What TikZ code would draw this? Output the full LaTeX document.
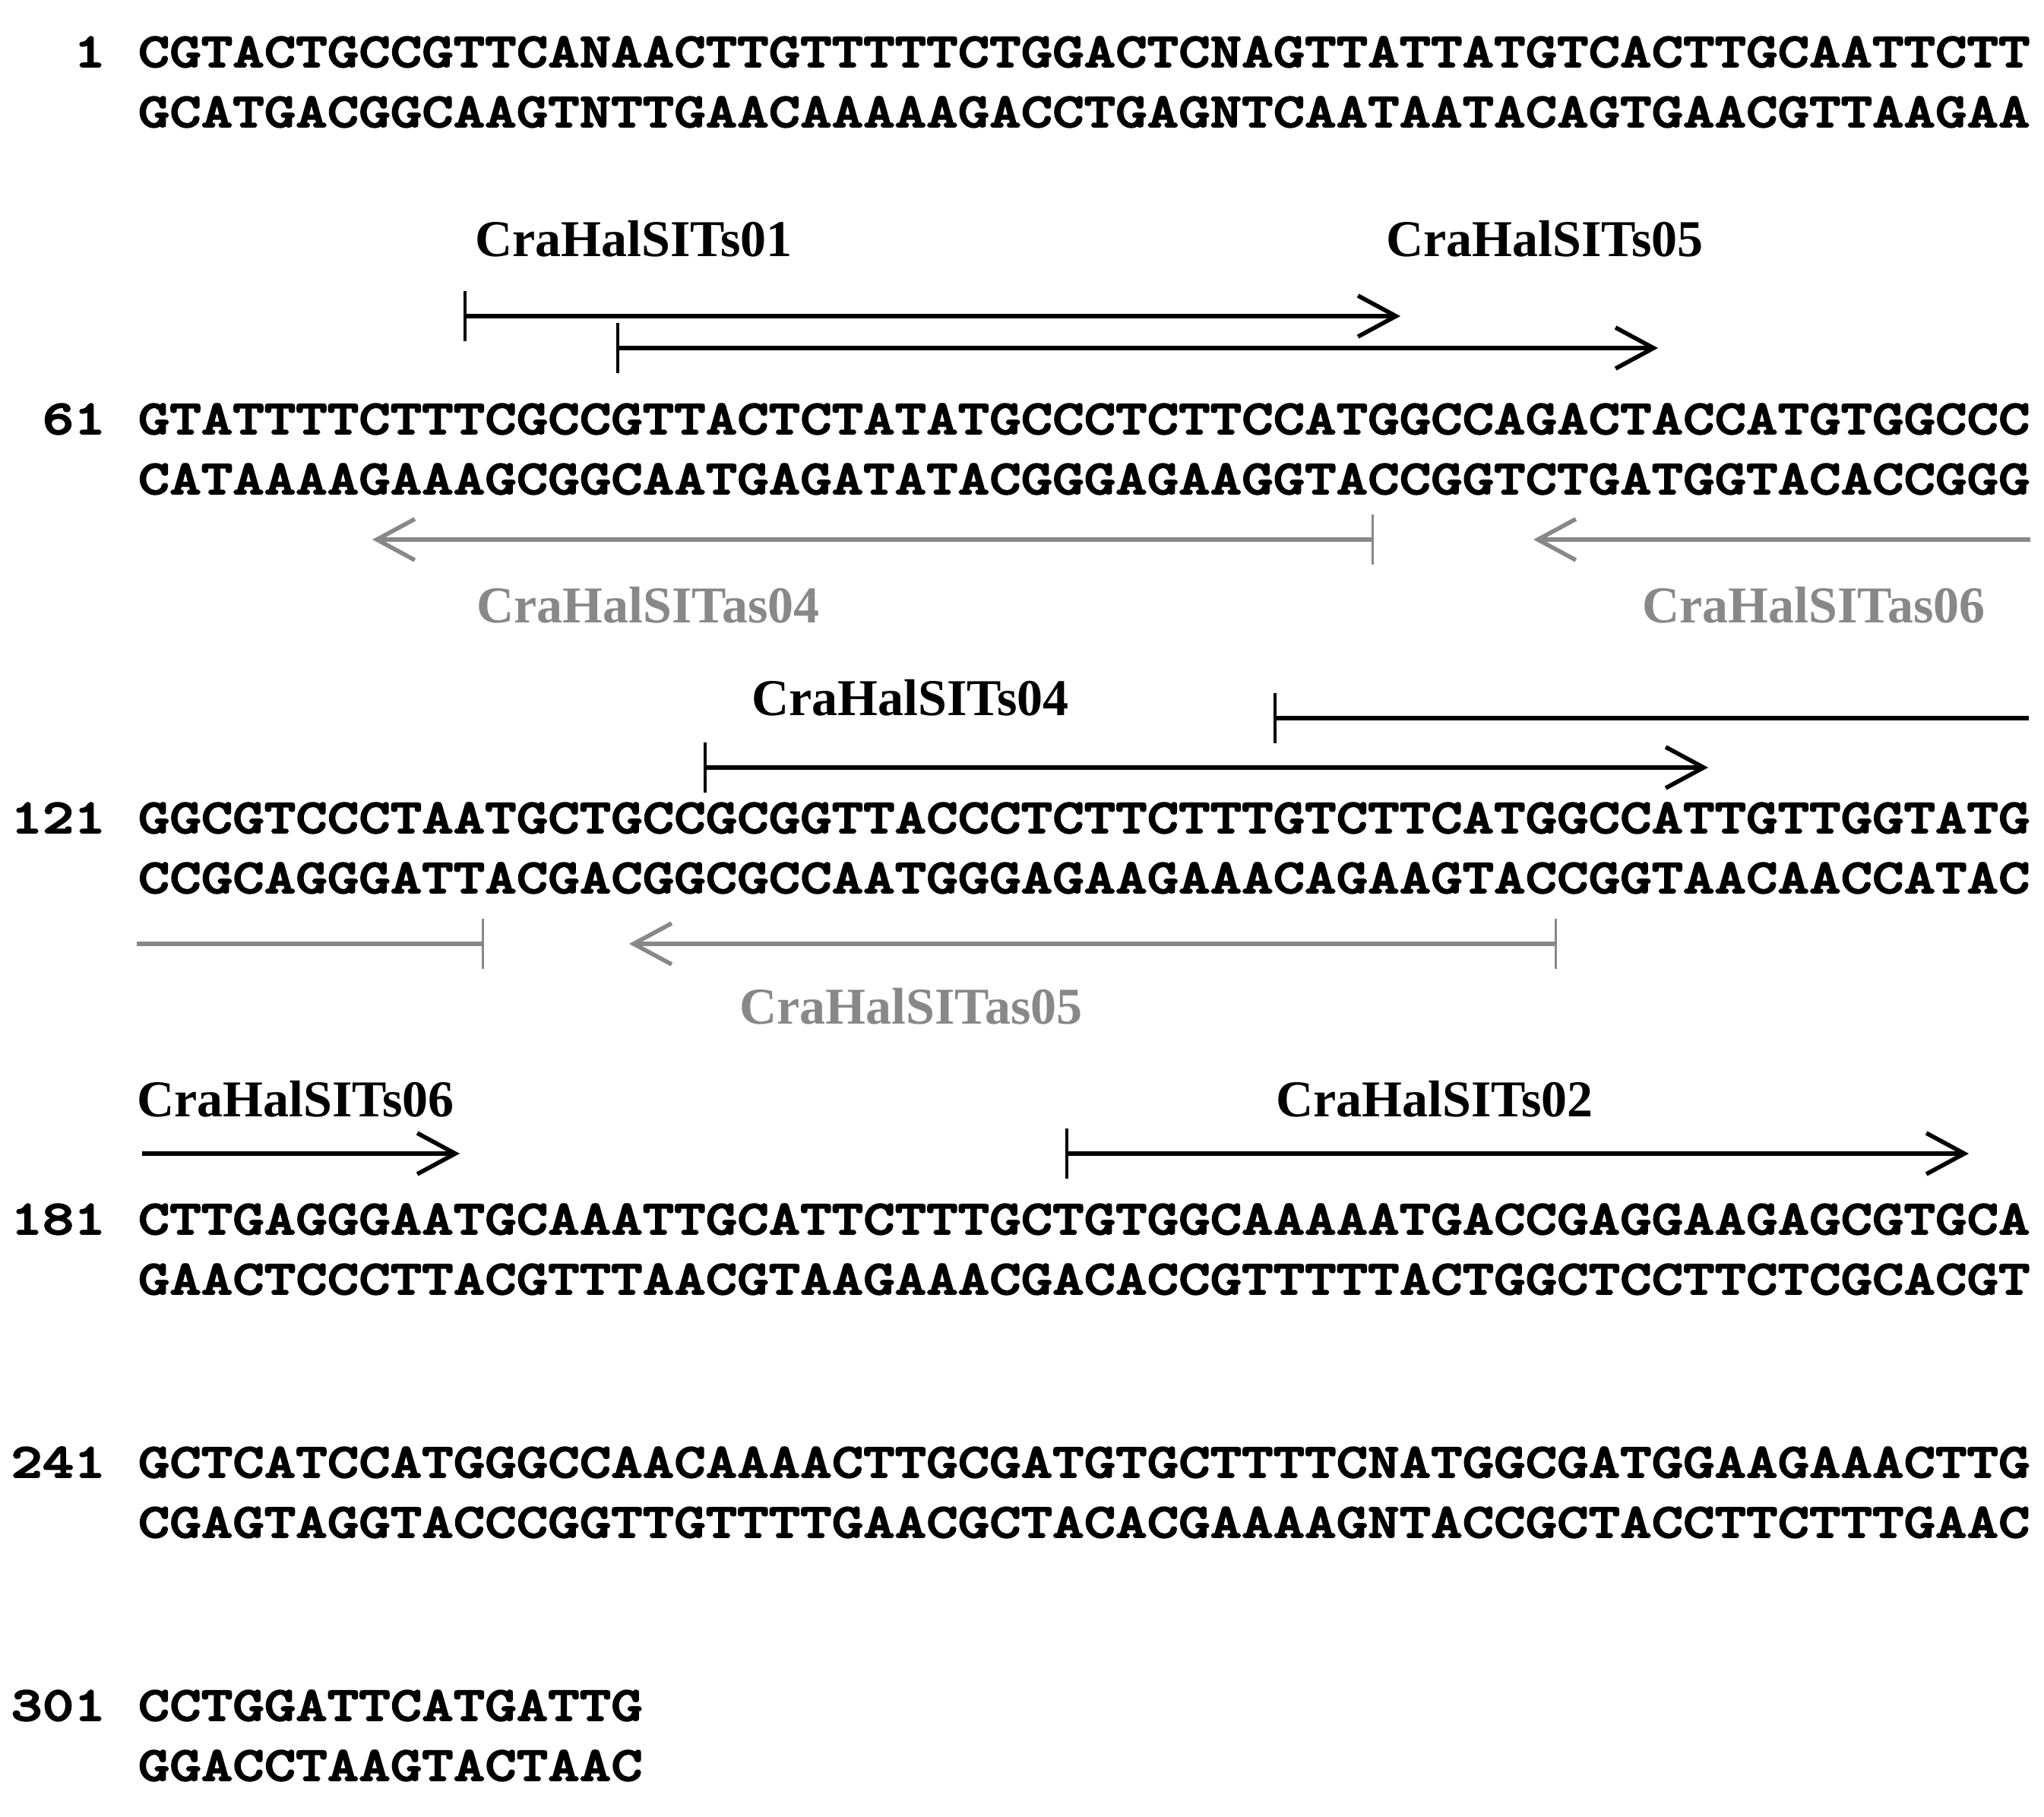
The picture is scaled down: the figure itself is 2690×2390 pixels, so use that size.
\documentclass[tikz,border=0pt]{standalone}
\usepackage{fontspec}
\setmainfont{Liberation Serif}
\newfontfamily\seqfont{lmmonolt10-bold.otf}[FakeStretch=1.235, FakeBold=3]
\usepackage{tikz}
\usetikzlibrary{arrows.meta}
\definecolor{asgray}{RGB}{136,136,136}

\newcommand{\primerbar}[2]{\draw[#1] ([yshift=8.3pt]#2) -- ([yshift=-8.3pt]#2);}

\begin{document}
\begin{tikzpicture}[x=0.25pt, y=-0.25pt,
	seq/.style={inner sep=0pt, anchor=base west, font=\seqfont\fontsize{16}{20}\selectfont},
	num/.style={seq, anchor=base east},
	lbl/.style={inner sep=0pt, anchor=base, font=\bfseries\fontsize{17}{20}\selectfont},
	sense/.style={line width=1.4pt, black},
	anti/.style={line width=1.4pt, asgray},
	senseend/.style={sense, -{Straight Barb[length=12.5pt, width=13.5pt]}},
	antiend/.style={anti, -{Straight Barb[length=12.5pt, width=13.5pt]}},
	sensebar/.style={line width=1pt, black},
	antibar/.style={line width=0.75pt, asgray}]
\useasboundingbox (0,0) rectangle (2690,2390);

% sequence rows
\node[num] (n1) at (139.6,88) {1};
\node[seq] (t1) at (181,88) {CGTACTGCCGTTCANAACTTGTTTTTCTGGACTCNAGTTATTATGTCACTTGCAATTCTT};
\node[seq] (b1) at (181,167) {GCATGACGGCAAGTNTTGAACAAAAAGACCTGAGNTCAATAATACAGTGAACGTTAAGAA};
\node[num] (n61) at (139.6,571) {61};
\node[seq] (t61) at (181,571) {GTATTTTCTTTCGCCGTTACTCTATATGCCCTCTTCCATGGCCAGACTACCATGTGGCCC};
\node[seq] (b61) at (181,650) {CATAAAAGAAAGCGGCAATGAGATATACGGGAGAAGGTACCGGTCTGATGGTACACCGGG};
\node[num] (n121) at (139.6,1096) {121};
\node[seq] (t121) at (181,1096) {GGCGTCCCTAATGCTGCCGCGGTTACCCTCTTCTTTGTCTTCATGGCCATTGTTGGTATG};
\node[seq] (b121) at (181,1175) {CCGCAGGGATTACGACGGCGCCAATGGGAGAAGAAACAGAAGTACCGGTAACAACCATAC};
\node[num] (n181) at (139.6,1624) {181};
\node[seq] (t181) at (181,1624) {CTTGAGGGAATGCAAATTGCATTCTTTGCTGTGGCAAAAATGACCGAGGAAGAGCGTGCA};
\node[seq] (b181) at (181,1703) {GAACTCCCTTACGTTTAACGTAAGAAACGACACCGTTTTTACTGGCTCCTTCTCGCACGT};
\node[num] (n241) at (139.6,1944) {241};
\node[seq] (t241) at (181,1944) {GCTCATCCATGGGCCAACAAAACTTGCGATGTGCTTTTCNATGGCGATGGAAGAAACTTG};
\node[seq] (b241) at (181,2023) {CGAGTAGGTACCCGGTTGTTTTGAACGCTACACGAAAAGNTACCGCTACCTTCTTTGAAC};
\node[num] (n301) at (139.6,2264) {301};
\node[seq] (t301) at (181,2264) {CCTGGATTCATGATTG};
\node[seq] (b301) at (181,2343) {GGACCTAAGTACTAAC};

% primer labels
\node[lbl] (s01lbl) at (834,337) {CraHalSITs01};
\node[lbl] (s05lbl) at (2033,337) {CraHalSITs05};
\node[lbl, asgray] (as04lbl) at (853,819) {CraHalSITas04};
\node[lbl, asgray] (as06lbl) at (2387,819) {CraHalSITas06};
\node[lbl] (s04lbl) at (1198,941) {CraHalSITs04};
\node[lbl, asgray] (as05lbl) at (1199,1347) {CraHalSITas05};
\node[lbl] (s06lbl) at (389,1469) {CraHalSITs06};
\node[lbl] (s02lbl) at (1888,1469) {CraHalSITs02};

% primer ends
\coordinate (s01a) at (612,416);   \coordinate (s01b) at (1843,416);
\coordinate (s05a) at (813,458);   \coordinate (s05b) at (2182,458);
\coordinate (as04a) at (1806,710); \coordinate (as04b) at (490,710);
\coordinate (as06a) at (635,1242); \coordinate (as06m) at (180,1242);
\coordinate (as06n) at (2672,710); \coordinate (as06b) at (2018,710);
\coordinate (s06a) at (1678,945);  \coordinate (s06m) at (2670,945);
\coordinate (s06n) at (187,1518);  \coordinate (s06b) at (605,1518);
\coordinate (s04a) at (928,1010);  \coordinate (s04b) at (2248,1010);
\coordinate (as05a) at (2047,1242); \coordinate (as05b) at (828,1242);
\coordinate (s02a) at (1404,1518); \coordinate (s02b) at (2591,1518);

% sense primers
\draw[senseend] (s01a) -- (s01b);
\primerbar{sensebar}{s01a}
\draw[senseend] (s05a) -- (s05b);
\primerbar{sensebar}{s05a}
\draw[senseend] (s04a) -- (s04b);
\primerbar{sensebar}{s04a}
\draw[sense] (s06a) -- (s06m);
\primerbar{sensebar}{s06a}
\draw[senseend] (s06n) -- (s06b);
\draw[senseend] (s02a) -- (s02b);
\primerbar{sensebar}{s02a}

% antisense primers
\draw[antiend] (as04a) -- (as04b);
\primerbar{antibar}{as04a}
\draw[anti] (as06a) -- (as06m);
\primerbar{antibar}{as06a}
\draw[antiend] (as06n) -- (as06b);
\draw[antiend] (as05a) -- (as05b);
\primerbar{antibar}{as05a}
\end{tikzpicture}
\end{document}
